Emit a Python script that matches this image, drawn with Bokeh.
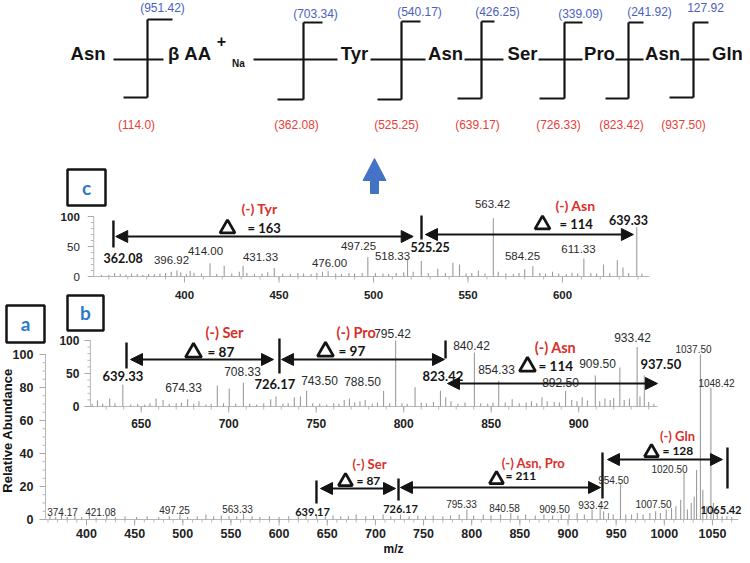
import math
from bokeh.plotting import figure
from bokeh.models import Range1d, Arrow, NormalHead, ColumnDataSource
from bokeh.core.properties import value
from bokeh.embed import file_html
from bokeh.resources import INLINE

# ---------------- data ----------------
residues = ["Asn", "β AA", "Tyr", "Asn", "Ser", "Pro", "Asn", "Gln"]
top_ions = ["(951.42)", "(703.34)", "(540.17)", "(426.25)", "(339.09)", "(241.92)", "127.92"]
bottom_ions = ["(114.0)", "(362.08)", "(525.25)", "(639.17)", "(726.33)", "(823.42)", "(937.50)"]

# panel c (MS of 639)
c_mz = [356, 360, 363, 366, 369, 372, 375, 378, 381, 384, 387, 390, 393, 396, 398, 401, 403, 405, 409, 413.5,
        417, 421, 425, 429, 431, 433, 437, 441, 444, 447.5, 452, 456, 460, 463, 467, 470, 473, 476, 480, 483,
        487, 490, 494, 497, 501, 505, 508, 512, 516, 518, 521, 525.3, 529, 534, 538, 542, 545.5, 549, 552, 555.5,
        559, 563.4, 566, 570, 574, 577, 580, 584.3, 588, 591, 594.7, 598, 602, 605, 608, 611.3, 615, 618, 621.7, 625,
        629, 632, 635, 639.3, 642]
c_int = [3, 3, 6, 4, 3, 5, 4, 3, 4, 4, 5, 6, 8, 10, 7, 4, 9, 6, 5, 22,
         4, 18, 5, 8, 18, 6, 4, 5, 7, 14, 5, 4, 6, 5, 4, 6, 8, 9, 5, 4,
         6, 5, 6, 32, 6, 5, 4, 6, 7, 28, 8, 26, 6, 13, 6, 23, 20, 5, 6, 10,
         5, 97, 8, 5, 4, 6, 12, 17, 6, 5, 8, 5, 4, 6, 5, 30, 6, 5, 20, 6,
         27, 15, 6, 82, 5]
c_peak_labels = ["396.92", "414.00", "431.33", "476.00", "497.25", "518.33", "563.42", "584.25", "611.33"]
c_fragments = ["362.08", "525.25", "639.33"]
c_losses = ["(-) Tyr", "(-) Asn"]
c_deltas = ["= 163", "= 114"]
c_xticks = [400, 450, 500, 550, 600]
c_yticks = [0, 50, 100]

# panel b (MS of 937)
b_mz = [622, 625, 628, 632, 635, 639.5, 644, 648, 652, 655, 658.5, 662.5, 666, 670, 673, 676.5, 680, 683, 687, 690,
        693.5, 697, 700.3, 704, 708.4, 712, 716, 720, 724, 727, 731, 734, 737.5, 741, 744.5, 748, 752, 756, 760, 763,
        766, 769, 772, 775, 778, 782, 785, 788.5, 792, 795.4, 799, 802, 806.5, 810, 813, 817, 821, 824, 827, 831,
        835, 840.4, 844, 848, 851, 854.3, 858, 862, 866, 870, 873, 876, 879, 882, 886, 889, 892.5, 896, 899, 902,
        905, 909.5, 912, 915, 918, 920, 923.5, 926, 929, 933.4, 935, 937.5, 940, 943]
b_int = [4, 9, 4, 12, 5, 33, 3, 4, 3, 5, 12, 10, 4, 5, 6, 11, 4, 8, 3, 4,
         32, 5, 27, 4, 36, 4, 3, 5, 11, 15, 4, 5, 14, 15, 24, 5, 4, 3, 5, 4,
         10, 12, 6, 8, 10, 4, 6, 24, 5, 100, 5, 4, 29, 6, 5, 7, 24, 14, 8, 4,
         6, 82, 5, 4, 6, 39, 6, 11, 5, 6, 8, 5, 14, 8, 7, 6, 24, 10, 8, 14,
         9, 47, 8, 12, 10, 13, 59, 10, 12, 90, 15, 47, 7, 4]
b_peak_labels = ["674.33", "708.33", "743.50", "788.50", "795.42", "840.42", "854.33", "892.50", "909.50", "933.42"]
b_fragments = ["639.33", "726.17", "823.42", "937.50"]
b_losses = ["(-) Ser", "(-) Pro", "(-) Asn"]
b_deltas = ["= 87", "= 97", "= 114"]
b_xticks = [650, 700, 750, 800, 850, 900]
b_yticks = [0, 50, 100]

# panel a (MS of 1065)
a_mz = [362, 368, 374, 380, 388, 395, 403, 410, 421, 430, 440, 452, 463, 475, 486, 497, 505, 515, 524, 532,
        540, 548, 556, 563, 572, 580, 590, 600, 610, 620, 628, 639, 648, 656, 664, 672, 680, 690, 698, 708,
        716, 726, 735, 744, 752, 760, 770, 778, 787, 795, 802, 812, 820, 830, 840.6, 848, 856, 866, 875, 884,
        893, 901, 909.5, 917, 925, 933.4, 937, 942, 947, 954.5, 960, 966, 972, 978, 985, 991, 996, 1002, 1007.5, 1012,
        1017, 1020.5, 1024, 1028, 1031, 1033.5, 1037.5, 1040, 1044, 1048.4, 1051, 1055, 1060, 1065, 1070]
a_int = [2, 1.5, 3, 1.5, 2, 1.5, 2, 1, 2.5, 1.5, 2, 1.5, 2, 1.5, 2, 3, 1.5, 2, 3, 2,
         2.5, 2, 2, 3.5, 2, 1.5, 2, 1.5, 2, 2, 2.5, 3, 2, 2.5, 2, 2, 3, 2, 2.5, 3,
         2, 3, 2, 2.5, 2, 2.5, 2, 2.5, 3, 6, 2.5, 3, 2.5, 3, 4, 2.5, 3, 2.5, 3, 2.5,
         3, 3, 4, 3, 6, 8, 5, 4, 3, 22, 3, 3, 4, 3, 4, 5, 4, 6, 7, 8,
         12, 28, 6, 10, 14, 30, 100, 18, 8, 80, 10, 4, 2, 2, 1.5]
a_peak_labels = ["374.17", "421.08", "497.25", "563.33", "795.33", "840.58", "909.50", "933.42", "954.50",
                 "1007.50", "1020.50", "1037.50", "1048.42"]
a_fragments = ["639.17", "726.17", "1065.42"]
a_losses = ["(-) Ser", "(-) Asn, Pro", "(-) Gln"]
a_deltas = ["= 87", "= 211", "= 128"]
a_xticks = [400, 450, 500, 550, 600, 650, 700, 750, 800, 850, 900, 950, 1000, 1050]
a_yticks = [0, 20, 40, 60, 80, 100]

# ---------------- layout ----------------
X0, Y0, W, H = 0, 0, 742, 555
BLACK = "#141414"
RED = "#d8302b"
BLUE = "#4a5fc0"
LBL = "#2c2c2c"
GREY = "#9c9c9c"
AXC = "#b8b8b8"

p = figure(width=W, height=H, x_range=Range1d(X0, X0 + W), y_range=Range1d(Y0 + H, Y0),
           output_backend="svg", toolbar_location=None, min_border=0,
           x_axis_location=None, y_axis_location=None)
p.grid.visible = False
p.outline_line_color = None
p.background_fill_color = "white"
p.border_fill_color = "white"

# pixel geometry of the three spectra: x_img = px0 + sx*(mz-mz0), y_img = py0 - sy*I
PAN = {
    "c": dict(mz0=400, px0=184, sx=1.89, py0=276, sy=0.60, xa=352, xb=646,
              xminor=list(range(360, 641, 10)), yminor=list(range(0, 101, 10))),
    "b": dict(mz0=650, px0=140.7, sx=1.75, py0=406, sy=0.66, xa=621, xb=945,
              xminor=list(range(630, 941, 10)), yminor=list(range(0, 101, 10))),
    "a": dict(mz0=400, px0=86, sx=0.963, py0=519, sy=1.65, xa=357.4, xb=1077,
              xminor=list(range(360, 1071, 10)), yminor=list(range(0, 101, 5))),
}
xr, yr = {}, {}
for k, d in PAN.items():
    xr[k] = Range1d(d["mz0"] + (X0 - d["px0"]) / d["sx"], d["mz0"] + (X0 + W - d["px0"]) / d["sx"])
    yr[k] = Range1d((d["py0"] - (Y0 + H)) / d["sy"], (d["py0"] - Y0) / d["sy"])
p.extra_x_ranges = xr
p.extra_y_ranges = yr


def seg(x0, y0, x1, y1, xn="default", yn="default", color=BLACK, width=2.0):
    p.segment(x0=list(x0), y0=list(y0), x1=list(x1), y1=list(y1), x_range_name=xn, y_range_name=yn,
              line_color=color, line_width=width)


def txt(x, y, t, size, font="Liberation Sans", bold=False, color=LBL, align="center",
        xn="default", yn="default", angle=0.0):
    p.text(x=list(x), y=list(y), text=list(t), x_range_name=xn, y_range_name=yn,
           text_font=value(font), text_font_size=f"{size}px",
           text_font_style="bold" if bold else "normal", text_color=color,
           text_align=align, text_baseline="middle", angle=angle)


def tri(x, y, size):
    p.scatter(x=list(x), y=list(y), marker="triangle", size=size, fill_color="white",
              line_color=BLACK, line_width=2.8)


def arrows(name, xs0, xs1, ys):
    src = ColumnDataSource(dict(x0=xs0, x1=xs1, y=ys))
    p.add_layout(Arrow(start=NormalHead(size=12, fill_color=BLACK, line_color=BLACK),
                       end=NormalHead(size=12, fill_color=BLACK, line_color=BLACK),
                       x_start="x0", y_start="y", x_end="x1", y_end="y", source=src,
                       x_range_name=name, line_color=BLACK, line_width=2.2))


def spectrum(k, mz, inten, xticks, yticks, xlab_y, ylab_dx, tick_size, ylab_bold):
    d = PAN[k]
    seg([d["xa"]], [0], [d["xb"]], [0], k, k, AXC, 1)
    seg([d["xa"]], [0], [d["xa"]], [100], k, k, AXC, 1)
    mn = d["xminor"]
    seg(mn, [0] * len(mn), mn, [-3 / d["sy"]] * len(mn), k, k, AXC, 1)
    seg(xticks, [0] * len(xticks), xticks, [-6 / d["sy"]] * len(xticks), k, k, "#a8a8a8", 1)
    ym = d["yminor"]
    seg([d["xa"] - 3 / d["sx"]] * len(ym), ym, [d["xa"]] * len(ym), ym, k, k, AXC, 1)
    seg([d["xa"] - 6 / d["sx"]] * len(yticks), yticks, [d["xa"]] * len(yticks), yticks, k, k, "#a8a8a8", 1)
    seg(mz, [0] * len(mz), mz, inten, k, k, GREY, 1.1)
    txt(xticks, [xlab_y] * len(xticks), [str(t) for t in xticks], tick_size, bold=True, color="#222", xn=k)
    yx = d["px0"] + d["sx"] * (d["xa"] - d["mz0"]) - ylab_dx
    for t in yticks:
        txt([yx], [t], [str(t)], tick_size, bold=ylab_bold(t), color="#222", align="right", yn=k)


# ---------------- top fragmentation scheme ----------------
txt([87.5, 189, 354, 445, 522, 599, 662, 727], [53] * 8, residues, 18.5, bold=True, color=BLACK)
txt([221], [40], ["+"], 16, bold=True, color=BLACK)
txt([238], [63], ["Na"], 10, bold=True, color=BLACK)
seg([113, 253, 370, 464, 538, 615, 680], [59] * 7, [163, 337, 425, 503, 582, 643, 709], [59] * 7, width=1.8)
vx = [147, 303, 401, 481, 564, 628, 693]
seg(vx, [19, 22, 21, 21, 22, 22, 22], vx, [97, 99, 99, 98, 98, 98, 97], width=2.2)
seg(vx, [19, 22, 21, 21, 22, 22, 22], [172, 322, 420, 494, 582, 643, 708],
    [19, 22, 21, 21, 22, 22, 22], width=2.2)
seg([123, 277, 377, 457, 539, 605, 669], [97, 99, 99, 98, 98, 98, 97], vx,
    [97, 99, 99, 98, 98, 98, 97], width=2.2)
txt([162, 315, 419, 497, 580, 649, 705], [7, 13, 11, 11, 13, 11, 7], top_ions, 12, color=BLUE)
txt([136, 296, 396, 477, 558, 621, 683], [124] * 7, bottom_ions, 12, color="#e8403a")

# blue arrow
p.patch([374, 385.5, 378, 378, 370, 370, 362.5], [158, 180, 180, 193, 193, 180, 180],
        fill_color="#4472c4", line_color="#4472c4")

# panel boxes
p.quad(left=[67, 67, 6], right=[105, 103, 44], top=[169, 295, 305], bottom=[205, 330, 342],
       fill_color=None, line_color=BLACK, line_width=2.5)
txt([86, 85, 25], [187, 312, 323], ["c", "b", "a"], 19, font="Lato", bold=True, color="#2e78cc")

# ---------------- spectra ----------------
spectrum("c", c_mz, c_int, c_xticks, c_yticks, 294.5, 14, 11.5, lambda t: t == 100)
spectrum("b", b_mz, b_int, b_xticks, b_yticks, 423, 11, 12, lambda t: True)
spectrum("a", a_mz, a_int, a_xticks, a_yticks, 533, 12, 12.5, lambda t: True)

# panel c annotations
seg([362.4, 525.4], [220, 215], [362.4, 525.4], [247, 239], "c", "default", BLACK, 2.4)
arrows("c", [363.6, 527.5], [521, 637.5], [236, 234])
txt([259, 575], [208, 205], c_losses, 14, font="Lato", bold=True, color=RED)
tri([227, 542], [228, 224], 15)
txt([247, 559], [227, 223], c_deltas, 13, font="Lato", bold=True, color=BLACK, align="left")
txt([103, 410], [257, 246], c_fragments[:2], 12.5, font="Lato", bold=True, color=BLACK, align="left")
txt([628], [219], c_fragments[2:], 12.5, font="Lato", bold=True, color=BLACK)
txt([171, 205, 260, 329, 358, 392, 492, 522, 578], [259, 250, 256, 262, 245, 255, 203, 255, 248],
    c_peak_labels, 11.5)

# panel b annotations
seg([641.6, 729, 823.9], [342, 338, 340], [641.6, 729, 823.9], [368, 373, 358], "b", "default", BLACK, 2.4)
arrows("b", [643.9, 730.2, 825], [725.6, 823.3, 945], [359, 359, 383])
txt([224, 555], [332, 347], [b_losses[0], b_losses[2]], 14.5, font="Lato", bold=True, color=RED)
txt([336], [332], [b_losses[1]], 14.5, font="Lato", bold=True, color=RED, align="left")
tri([193, 325, 527], [352, 351, 366], 16)
txt([207, 338, 538], [351, 350, 365], b_deltas, 13.5, font="Lato", bold=True, color=BLACK, align="left")
txt([102, 254, 422, 640], [375, 383, 375, 363], b_fragments, 13, font="Lato", bold=True, color=BLACK,
    align="left")
txt([183, 242, 319, 362, 392, 471, 496, 560, 597, 632], [387, 371, 380, 381, 333, 345, 369, 382, 363, 337],
    b_peak_labels, 12)

# panel a annotations
seg([638.8, 724, 935.8, 1065.6], [480, 478, 452, 447], [638.8, 724, 935.8, 1065.6], [503, 500, 498, 488],
    "a", "default", BLACK, 2.4)
arrows("a", [643, 726, 941], [720.9, 933.8, 1060.4], [488, 487, 459])
txt([369, 533, 677], [463, 462, 435], a_losses, 13, font="Lato", bold=True, color=RED)
tri([345, 496, 651], [481, 479, 452], 14)
txt([356, 505, 662], [480, 475, 450], a_deltas, 12, font="Lato", bold=True, color=BLACK, align="left")
txt([312, 400], [511, 508], a_fragments[:2], 11, font="Lato", bold=True, color=BLACK)
txt([741], [509], a_fragments[2:], 11, font="Lato", bold=True, color=BLACK, align="right")
txt([62, 100, 174, 237, 461, 504, 554, 593, 613, 653, 669, 693, 716],
    [511, 511, 509, 508, 503, 507, 508, 504, 479, 503, 468, 348, 382], a_peak_labels, 10)

# axis titles
txt([7], [430], ["Relative Abundance"], 13, bold=True, color=BLACK, angle=math.pi / 2)
txt([393], [548], ["m/z"], 12, bold=True, color=BLACK)

open("out.html", "w").write(file_html(p, INLINE))
